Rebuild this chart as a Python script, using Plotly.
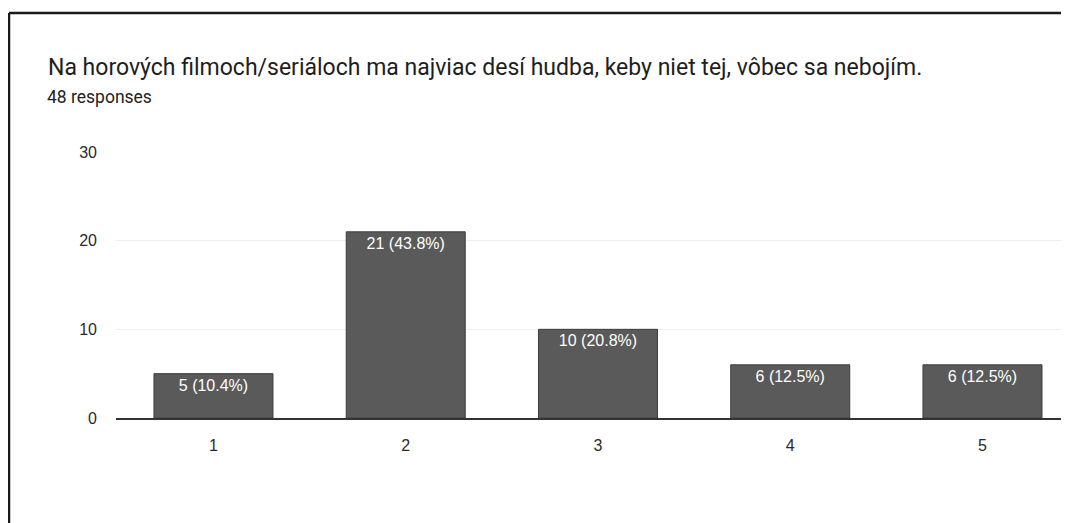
import plotly.graph_objects as go

# Data
categories = ["1", "2", "3", "4", "5"]
counts = [5, 21, 10, 6, 6]
labels = ["5 (10.4%)", "21 (43.8%)", "10 (20.8%)", "6 (12.5%)", "6 (12.5%)"]
y_ticks = [0, 10, 20, 30]

title_text = "Na horových filmoch/seriáloch ma najviac desí hudba, keby niet tej, vôbec sa nebojím."
subtitle_text = "48 responses"

# page body has an 8px margin, so the figure is drawn 8px in from the corner
OFF = 8
W, H = 1069 - OFF, 523 - OFF
L, R, T, B = 108, 0, 144, 105
pw, ph = W - L - R, H - T - B


def px_x(x):
    # page pixel -> paper coordinate
    return (x - OFF - L) / pw


def px_y(y):
    return (H - B - (y - OFF)) / ph


fig = go.Figure()

fig.add_trace(
    go.Bar(
        x=categories,
        y=counts,
        text=labels,
        textposition="inside",
        insidetextanchor="end",
        textangle=0,
        textfont=dict(family="Arial, Liberation Sans", size=16, color="white"),
        marker=dict(color="#5a5a5a", line=dict(color="#3c3c3c", width=1)),
        hoverinfo="skip",
        showlegend=False,
    )
)

# Title and response count
fig.add_annotation(
    text=title_text, xref="paper", yref="paper",
    x=px_x(46), y=px_y(67), xanchor="left", yanchor="middle",
    showarrow=False, font=dict(family="Roboto", size=23, color="#1e1e1e"),
)
fig.add_annotation(
    text=subtitle_text, xref="paper", yref="paper",
    x=px_x(45), y=px_y(97), xanchor="left", yanchor="middle",
    showarrow=False, font=dict(family="Roboto", size=17.5, color="#222222"),
)

# Scanned page frame (left and top edges)
frame = dict(color="#1a1a1a", width=2.5)
fig.add_shape(type="line", xref="paper", yref="paper",
              x0=px_x(9), x1=px_x(9), y0=px_y(13), y1=px_y(523), line=frame)
fig.add_shape(type="line", xref="paper", yref="paper",
              x0=px_x(9), x1=1.0, y0=px_y(13), y1=px_y(13), line=frame)

fig.update_layout(
    width=W, height=H,
    margin=dict(l=L, r=R, t=T, b=B),
    paper_bgcolor="white", plot_bgcolor="white",
    bargap=0.381,
    font=dict(family="Arial, Liberation Sans", color="#333333"),
    xaxis=dict(
        type="category", range=[-0.507, 4.45],
        showgrid=False, showline=True, linecolor="#333333", linewidth=2,
        ticks="", ticklabelstandoff=12, tickfont=dict(size=16, color="#2a2a2a"),
    ),
    yaxis=dict(
        range=[0, 30], tickvals=y_ticks,
        showgrid=True, gridcolor="#eeeeee", gridwidth=1, zeroline=False,
        showline=False, ticks="", ticklabelstandoff=18,
        tickfont=dict(size=16, color="#2a2a2a"),
    ),
)

fig.write_html("out.html")
